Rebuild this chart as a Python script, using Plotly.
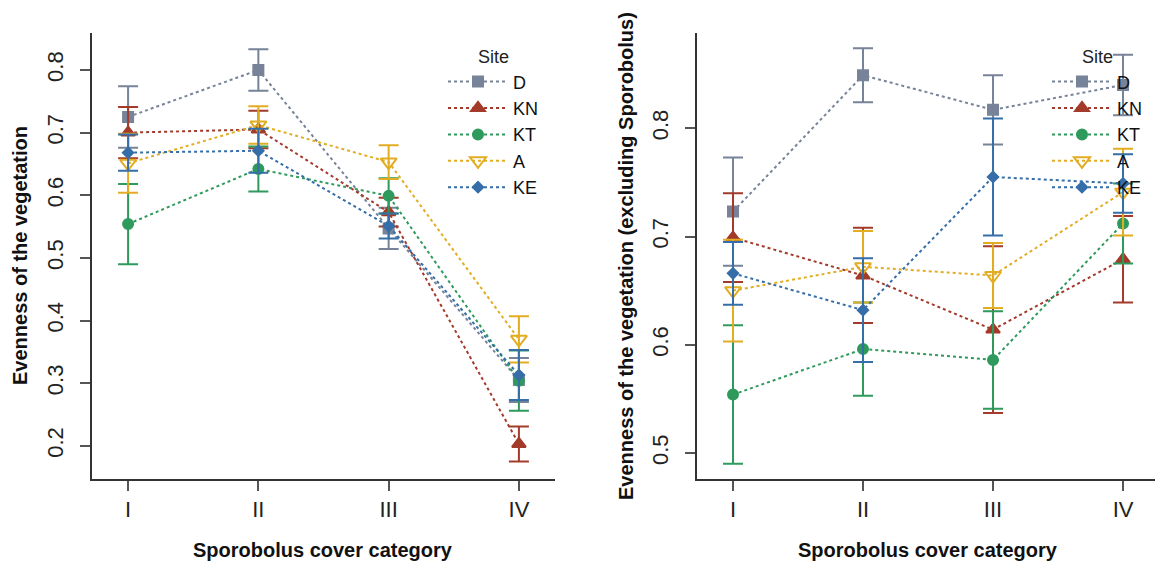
import plotly.graph_objects as go

categories = ["I", "II", "III", "IV"]
cat_pos = [1, 2, 3, 4]
sites = ["D", "KN", "KT", "A", "KE"]

# Left panel: evenness of the vegetation
left_mean = {
    "D":  [0.725, 0.800, 0.547, 0.305],
    "KN": [0.700, 0.705, 0.573, 0.203],
    "KT": [0.554, 0.642, 0.599, 0.304],
    "A":  [0.651, 0.712, 0.653, 0.370],
    "KE": [0.668, 0.671, 0.551, 0.313],
}
left_err = {
    "D":  [0.049, 0.033, 0.033, 0.035],
    "KN": [0.041, 0.030, 0.023, 0.028],
    "KT": [0.064, 0.036, 0.028, 0.048],
    "A":  [0.047, 0.030, 0.027, 0.037],
    "KE": [0.029, 0.035, 0.020, 0.040],
}
# Right panel: evenness excluding Sporobolus
right_mean = {
    "D":  [0.723, 0.849, 0.817, 0.840],
    "KN": [0.699, 0.664, 0.614, 0.679],
    "KT": [0.554, 0.596, 0.586, 0.712],
    "A":  [0.650, 0.672, 0.664, 0.741],
    "KE": [0.666, 0.632, 0.755, 0.749],
}
right_err = {
    "D":  [0.050, 0.025, 0.032, 0.028],
    "KN": [0.041, 0.044, 0.077, 0.040],
    "KT": [0.064, 0.043, 0.045, 0.037],
    "A":  [0.047, 0.033, 0.030, 0.040],
    "KE": [0.029, 0.048, 0.054, 0.027],
}
left_yticks = [0.2, 0.3, 0.4, 0.5, 0.6, 0.7, 0.8]
right_yticks = [0.5, 0.6, 0.7, 0.8]

colors = {"D": "#778399", "KN": "#a33a2a", "KT": "#2e9a5c", "A": "#e2ad22", "KE": "#356ea8"}
symbols = {"D": "square", "KN": "triangle-up", "KT": "circle", "A": "triangle-down-open", "KE": "diamond"}
sizes = {"D": 10, "KN": 12, "KT": 10, "A": 14, "KE": 8}

FONT = "Liberation Sans, Arial, Helvetica, sans-serif"

fig = go.Figure()
for panel, (means, errs, xa, ya, lg) in enumerate([
        (left_mean, left_err, "x", "y", "legend"),
        (right_mean, right_err, "x2", "y2", "legend2")]):
    for s in sites:
        fig.add_trace(go.Scatter(
            x=cat_pos, y=means[s], name=s, xaxis=xa, yaxis=ya, legend=lg,
            mode="lines+markers",
            line=dict(color=colors[s], width=2, dash="dot"),
            marker=dict(symbol=symbols[s], size=sizes[s], color=colors[s],
                        line=dict(color=colors[s], width=2)),
            error_y=dict(type="data", array=errs[s], color=colors[s],
                         thickness=2, width=10),
        ))

axis_common = dict(showline=True, linewidth=2, linecolor="#333333", mirror=False,
                   showgrid=False, zeroline=False, ticks="outside", ticklen=10,
                   tickwidth=1.5, tickcolor="#555555",
                   tickfont=dict(family=FONT, size=22, color="#222222"))

ydom = [85 / 564, 531 / 564]
legend_common = dict(xanchor="left", yanchor="top", bgcolor="rgba(0,0,0,0)", itemwidth=60,
                     title=dict(text="Site", side="top center",
                                font=dict(family=FONT, size=18, color="#222")),
                     font=dict(family=FONT, size=18, color="#111"))
fig.update_layout(
    width=1155, height=564,
    margin=dict(l=0, r=0, t=0, b=0),
    plot_bgcolor="white", paper_bgcolor="white",
    xaxis=dict(domain=[92 / 1155, 555 / 1155], range=[0.723, 4.277],
               tickvals=cat_pos, ticktext=categories, anchor="y", **axis_common),
    yaxis=dict(domain=ydom, range=[0.147, 0.859], tickvals=left_yticks,
               tickangle=-90, anchor="x", ticklabelstandoff=8, **axis_common),
    xaxis2=dict(domain=[697 / 1155, 1.0], range=[0.723, 4.246],
                tickvals=cat_pos, ticktext=categories, anchor="y2", **axis_common),
    yaxis2=dict(domain=ydom, range=[0.476, 0.888], tickvals=right_yticks,
                tickangle=-90, anchor="x2", ticklabelstandoff=8, **axis_common),
    legend=dict(x=443 / 1155, y=1 - 40 / 564, **legend_common),
    legend2=dict(x=1047 / 1155, y=1 - 40 / 564, **legend_common),
    annotations=[
        dict(text="<b>Evenness of the vegetation</b>", x=20 / 1155, y=1 - 256 / 564,
             xref="paper", yref="paper", textangle=-90, showarrow=False,
             xanchor="center", yanchor="middle",
             font=dict(family=FONT, size=20, color="#111")),
        dict(text="<b>Evenness of the vegetation (excluding Sporobolus)</b>", x=626 / 1155, y=1 - 256 / 564,
             xref="paper", yref="paper", textangle=-90, showarrow=False,
             xanchor="center", yanchor="middle",
             font=dict(family=FONT, size=20, color="#111")),
        dict(text="<b>Sporobolus cover category</b>", x=323 / 1155, y=1 - 550 / 564,
             xref="paper", yref="paper", showarrow=False,
             xanchor="center", yanchor="middle",
             font=dict(family=FONT, size=20, color="#111")),
        dict(text="<b>Sporobolus cover category</b>", x=928 / 1155, y=1 - 550 / 564,
             xref="paper", yref="paper", showarrow=False,
             xanchor="center", yanchor="middle",
             font=dict(family=FONT, size=20, color="#111")),
    ],
)

fig.write_html("out.html")
